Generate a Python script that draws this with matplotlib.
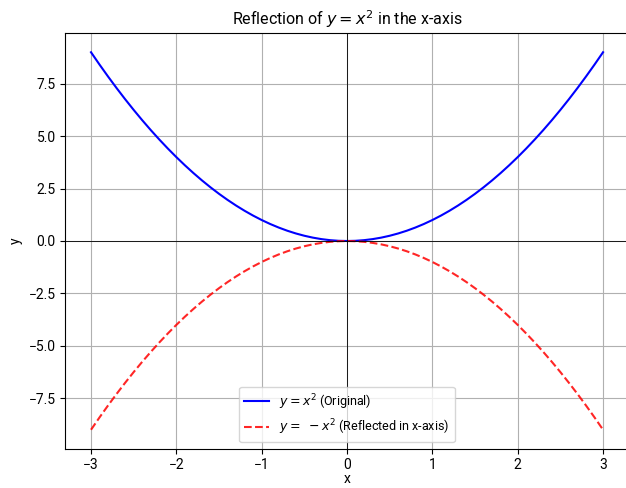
import matplotlib
matplotlib.use('Agg')
import matplotlib.pyplot as plt

# 读取图中的采样点 (步长 0.1)
x_vals = [-3.0, -2.9, -2.8, -2.7, -2.6, -2.5, -2.4, -2.3, -2.2, -2.1,
          -2.0, -1.9, -1.8, -1.7, -1.6, -1.5, -1.4, -1.3, -1.2, -1.1,
          -1.0, -0.9, -0.8, -0.7, -0.6, -0.5, -0.4, -0.3, -0.2, -0.1,
          0.0, 0.1, 0.2, 0.3, 0.4, 0.5, 0.6, 0.7, 0.8, 0.9,
          1.0, 1.1, 1.2, 1.3, 1.4, 1.5, 1.6, 1.7, 1.8, 1.9,
          2.0, 2.1, 2.2, 2.3, 2.4, 2.5, 2.6, 2.7, 2.8, 2.9, 3.0]
y_original = [9.0, 8.41, 7.84, 7.29, 6.76, 6.25, 5.76, 5.29, 4.84, 4.41,
              4.0, 3.61, 3.24, 2.89, 2.56, 2.25, 1.96, 1.69, 1.44, 1.21,
              1.0, 0.81, 0.64, 0.49, 0.36, 0.25, 0.16, 0.09, 0.04, 0.01,
              0.0, 0.01, 0.04, 0.09, 0.16, 0.25, 0.36, 0.49, 0.64, 0.81,
              1.0, 1.21, 1.44, 1.69, 1.96, 2.25, 2.56, 2.89, 3.24, 3.61,
              4.0, 4.41, 4.84, 5.29, 5.76, 6.25, 6.76, 7.29, 7.84, 8.41, 9.0]
y_reflected = [-v for v in y_original]

plt.rcParams['font.family'] = ['Roboto', 'DejaVu Sans']

fig = plt.figure(figsize=(6.26, 4.88), dpi=100)
ax = fig.add_axes([0.1045, 0.0807, 0.8997, 0.8509])

ax.plot(x_vals, y_original, color='blue', linestyle='-', label='$y = x^2$ (Original)')
ax.plot(x_vals, y_reflected, color='red', linestyle='--', alpha=0.85,
        label='$y = \\ -x^2$ (Reflected in x-axis)')
ax.axhline(0, color='black', linewidth=0.6)
ax.axvline(0, color='black', linewidth=0.6)

ax.set_title('Reflection of $y = x^2$ in the x-axis', fontsize=11.5)
ax.set_xlabel('x', labelpad=0)
ax.set_ylabel('y')
ax.legend(loc='lower center', fontsize=9)
ax.grid(True)

plt.savefig('out.png', dpi=100)
plt.close()
